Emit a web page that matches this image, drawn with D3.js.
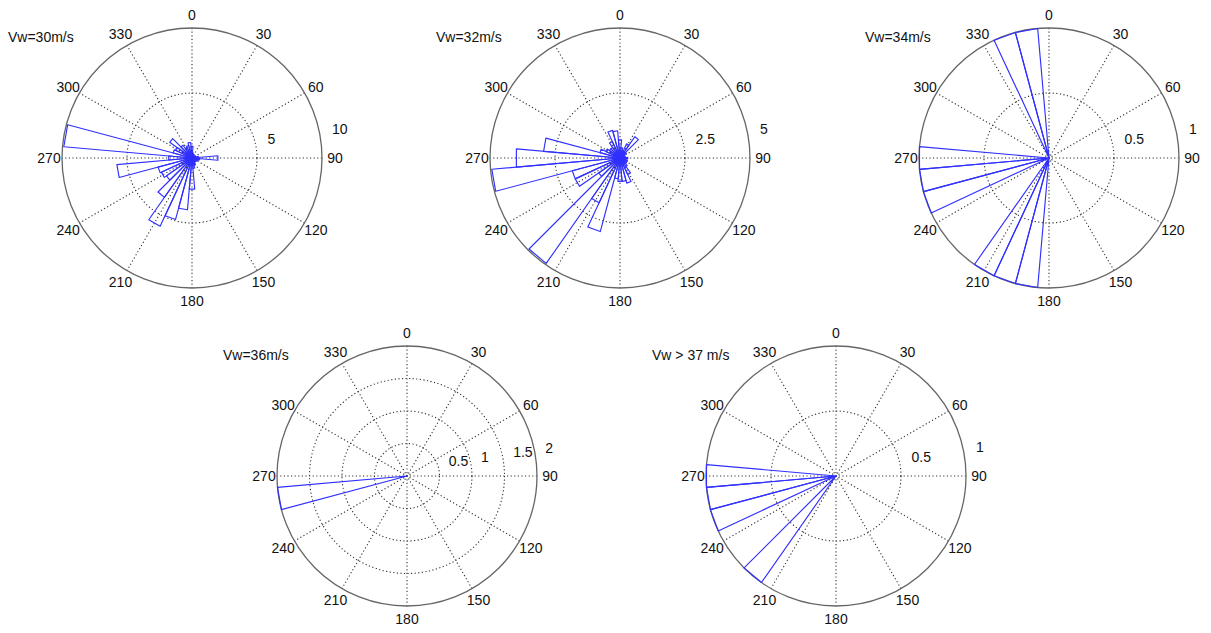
<!DOCTYPE html>
<html>
<head>
<meta charset="utf-8">
<script src="https://cdn.jsdelivr.net/npm/d3@7"></script>
<style>
body { margin:0; background:#ffffff; }
text { font-family:"Liberation Sans", Arial, sans-serif; font-size:14px; fill:#111; }
.title { font-size:14px; }
</style>
</head>
<body>
<svg></svg>
<script>
//bin centres (degrees, clockwise from north), 10 degree wide bins
var binAngles = [0,10,20,30,40,50,60,70,80,90,100,110,120,130,140,150,160,170,
                 180,190,200,210,220,230,240,250,260,270,280,290,300,310,320,330,340,350];

//counts, one per bin
var vw30 = [0.9,0.4,0.3,0.3,0.2,0.2,0.3,0.3,0.5,2.0,0.6,0.5,0.4,0.4,0.3,0.4,0.6,0.8,
            2.4,4.0,4.9,5.8,3.7,2.4,2.6,2.7,5.8,1.8,9.9,1.5,1.4,2.1,1.2,0.9,1.0,1.2];
var vw32 = [0.7,0.4,0.3,0.6,1.0,0.3,0.2,0.2,0.2,0.3,0.2,0.3,0.3,0.3,0.4,0.7,1.0,0.9,
            0.9,0.8,2.93,1.9,4.95,1.0,1.9,1.9,4.95,4.0,2.95,0.8,0.6,0.5,0.5,0.7,1.1,1.05];
var vw34 = [0,0,0,0,0,0,0,0,0,0,0,0,0,0,0,0,0,0,
            0,1,1,1,0,0,0,1,1,1,0,0,0,0,0,0,1,1];
var vw36 = [0,0,0,0,0,0,0,0,0,0,0,0,0,0,0,0,0,0,
            0,0,0,0,0,0,0,0,2,0,0,0,0,0,0,0,0,0];
var vw37 = [0,0,0,0,0,0,0,0,0,0,0,0,0,0,0,0,0,0,
            0,0,0,0,1,0,0,1,1,1,0,0,0,0,0,0,0,0];

//radial ticks of each panel
var ticks30 = [5,10];
var ticks32 = [2.5,5];
var ticks34 = [0.5,1];
var ticks36 = [0.5,1,1.5,2];
var ticks37 = [0.5,1];

var titles = ["Vw=30m/s","Vw=32m/s","Vw=34m/s","Vw=36m/s","Vw > 37 m/s"];
var angleLabels = [0,30,60,90,120,150,180,210,240,270,300,330];

var rad = function(deg) { return deg*Math.PI/180; }

var drawRose = function(svg, cx, cy, radius, title, values, ticks)
{
    var rMax = ticks[ticks.length-1];
    var rinc = ticks[0];
    var rScale = d3.scaleLinear().domain([0,rMax]).range([0,radius]);

    var g = svg.append("g")
        .attr("transform","translate("+cx+","+cy+")");

    //spokes
    var spoke = d3.lineRadial()
        .angle(function(d){ return rad(d[0]); })
        .radius(function(d){ return rScale(d[1]); });

    g.selectAll(".spoke")
        .data([0,30,60,90,120,150])
        .enter()
        .append("path")
        .attr("d",function(a){ return spoke([[a,rMax],[a+180,rMax]]); })
        .attr("fill","none")
        .attr("stroke","#333")
        .attr("stroke-width",1.1)
        .attr("stroke-dasharray","1.2,2.4");

    //inner rings dotted
    g.selectAll(".ring")
        .data(ticks.slice(0,-1))
        .enter()
        .append("circle")
        .attr("r",function(t){ return rScale(t); })
        .attr("fill","none")
        .attr("stroke","#333")
        .attr("stroke-width",1.1)
        .attr("stroke-dasharray","1.2,2.4");

    //outer ring
    g.append("circle")
        .attr("r",rScale(rMax))
        .attr("fill","none")
        .attr("stroke","#666")
        .attr("stroke-width",1.3);

    //the rose itself
    var wedge = d3.lineRadial()
        .angle(function(d){ return rad(d[0]); })
        .radius(function(d){ return rScale(d[1]); })
        .curve(d3.curveLinearClosed);

    var bins = binAngles.map(function(a,i){ return {angle:a, value:values[i]}; })
        .filter(function(b){ return b.value>0; });

    g.selectAll(".wedge")
        .data(bins)
        .enter()
        .append("path")
        .attr("d",function(b){
            return wedge([[b.angle,0],[b.angle-5,b.value],[b.angle+5,b.value]]);
        })
        .attr("fill","none")
        .attr("stroke","#3030ff")
        .attr("stroke-width",1.15)
        .attr("stroke-linejoin","round");

    //angle labels
    g.selectAll(".alabel")
        .data(angleLabels)
        .enter()
        .append("text")
        .attr("x",function(a){ return d3.pointRadial(rad(a),radius*1.1)[0]; })
        .attr("y",function(a){ return d3.pointRadial(rad(a),radius*1.1)[1]; })
        .attr("text-anchor","middle")
        .attr("dominant-baseline","central")
        .text(function(a){ return a; });

    //radial labels
    g.selectAll(".rlabel")
        .data(ticks)
        .enter()
        .append("text")
        .attr("x",function(t){ return d3.pointRadial(rad(82),rScale(t+rinc/20))[0]+8; })
        .attr("y",function(t){ return d3.pointRadial(rad(82),rScale(t+rinc/20))[1]-5; })
        .text(function(t){ return t; });

    svg.append("text")
        .classed("title",true)
        .attr("x",cx-184)
        .attr("y",cy-121)
        .attr("dominant-baseline","central")
        .text(title);
}

var svg = d3.select("svg")
    .attr("width",1211)
    .attr("height",633);

svg.append("rect").attr("width",1211).attr("height",633).attr("fill","#fff");

drawRose(svg,192,158,130,titles[0],vw30,ticks30);
drawRose(svg,620,158,130,titles[1],vw32,ticks32);
drawRose(svg,1049,158,130,titles[2],vw34,ticks34);
drawRose(svg,407,476,130,titles[3],vw36,ticks36);
drawRose(svg,836,476,130,titles[4],vw37,ticks37);
</script>
</body>
</html>
